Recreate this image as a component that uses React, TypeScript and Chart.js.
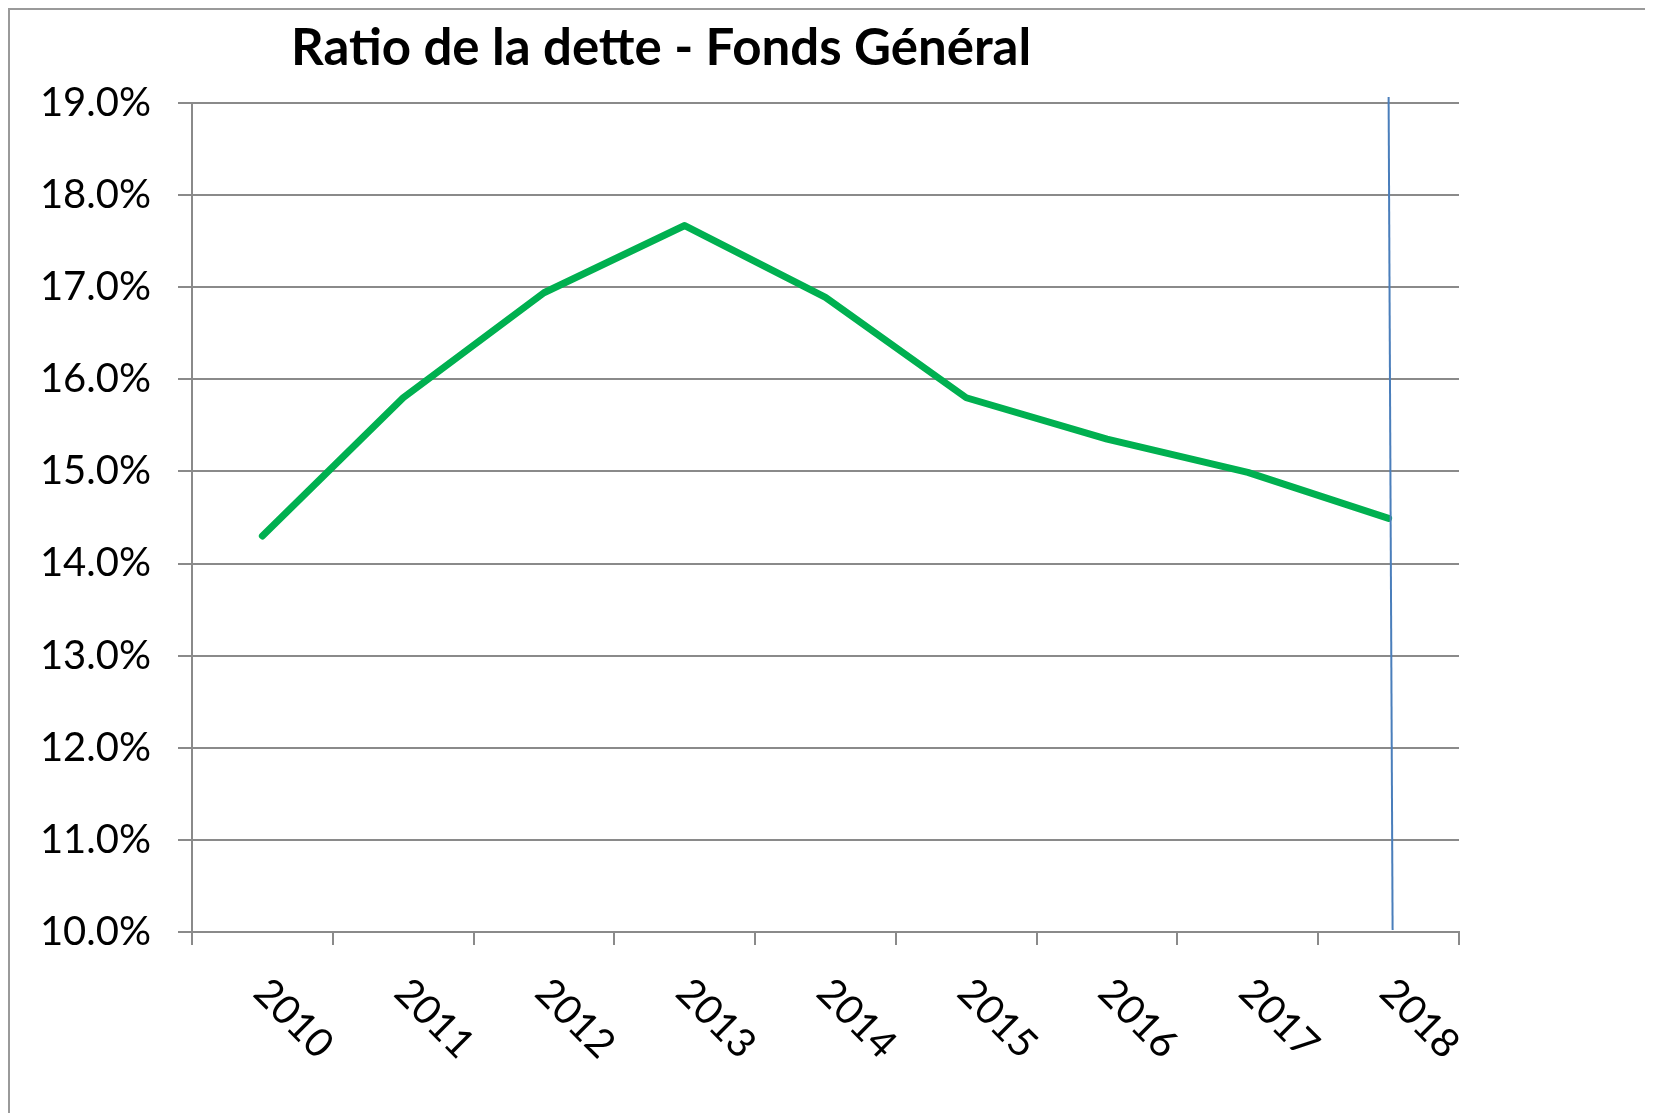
import React, { useEffect, useRef } from 'react';
import { Chart, registerables } from 'chart.js';

Chart.register(...registerables);

const years: string[] = ['2010', '2011', '2012', '2013', '2014', '2015', '2016', '2017', '2018'];
const debtRatio: number[] = [14.3, 15.8, 16.94, 17.67, 16.89, 15.8, 15.35, 14.99, 14.49];
const yMin = 10;
const yMax = 19;
const yStep = 1;
const titleText = 'Ratio de la dette - Fonds Général';
const markerYear = '2018';

const GRID = '#8a8a8a';

const overlayPlugin = {
  id: 'overlay',
  afterDraw(chart: any) {
    const { ctx, chartArea, scales } = chart;
    const xs = scales.x;
    ctx.save();
    // title
    ctx.fillStyle = '#000000';
    ctx.font = 'bold 51px Lato';
    ctx.textAlign = 'left';
    ctx.textBaseline = 'alphabetic';
    ctx.fillText(titleText, chartArea.left + 99, chartArea.top - 38);

    // rotated category labels
    ctx.font = '40px Lato';
    years.forEach((label, i) => {
      const px = xs.getPixelForValue(i);
      ctx.save();
      ctx.translate(px - 11, chartArea.bottom + 63);
      ctx.rotate(Math.PI / 4);
      ctx.fillText(label, 0, 0);
      ctx.restore();
    });

    // vertical marker line
    const mi = years.indexOf(markerYear);
    const mx = xs.getPixelForValue(mi);
    ctx.strokeStyle = '#4A7EBB';
    ctx.lineWidth = 2;
    ctx.beginPath();
    ctx.moveTo(mx, chartArea.top - 6);
    ctx.lineTo(mx + 4, chartArea.bottom - 2);
    ctx.stroke();
    ctx.restore();
  },
};

export default function App() {
  const canvasRef = useRef<HTMLCanvasElement | null>(null);

  useEffect(() => {
    if (!canvasRef.current) return;
    const chart = new Chart(canvasRef.current, {
      type: 'line',
      data: {
        labels: years,
        datasets: [
          {
            label: 'Ratio de la dette',
            data: debtRatio,
            borderColor: '#00B050',
            backgroundColor: '#00B050',
            borderWidth: 7,
            borderCapStyle: 'round',
            borderJoinStyle: 'round',
            pointRadius: 0,
            tension: 0,
            fill: false,
          },
        ],
      },
      options: {
        responsive: false,
        maintainAspectRatio: false,
        animation: false,
        layout: { padding: { left: 10, right: 190, top: 93, bottom: 33 } },
        plugins: {
          legend: { display: false },
          tooltip: { enabled: false },
          title: { display: false },
        },
        scales: {
          x: {
            type: 'category',
            offset: true,
            grid: {
              offset: true,
              drawOnChartArea: false,
              drawTicks: true,
              tickLength: 13,
              color: GRID,
              lineWidth: 2,
            },
            border: { display: true, color: GRID, width: 2 },
            ticks: { display: false },
            afterFit: (s: any) => {
              s.height = 150;
            },
          },
          y: {
            min: yMin,
            max: yMax,
            ticks: {
              stepSize: yStep,
              color: '#000000',
              font: { family: 'Lato', size: 40 },
              padding: 27,
              callback: (v: any) => Number(v).toFixed(1) + '%',
            },
            grid: {
              color: GRID,
              lineWidth: 2,
              drawTicks: true,
              tickLength: 14,
            },
            border: { display: true, color: GRID, width: 2 },
            afterFit: (s: any) => {
              s.width = 172;
            },
          },
        },
      },
      plugins: [overlayPlugin],
    });
    return () => chart.destroy();
  }, []);

  return (
    <div style={{ width: 1639, height: 1105, border: '2px solid #9a9a9a' }}>
      <canvas ref={canvasRef} width={1639} height={1105} style={{ display: 'block' }} />
    </div>
  );
}
